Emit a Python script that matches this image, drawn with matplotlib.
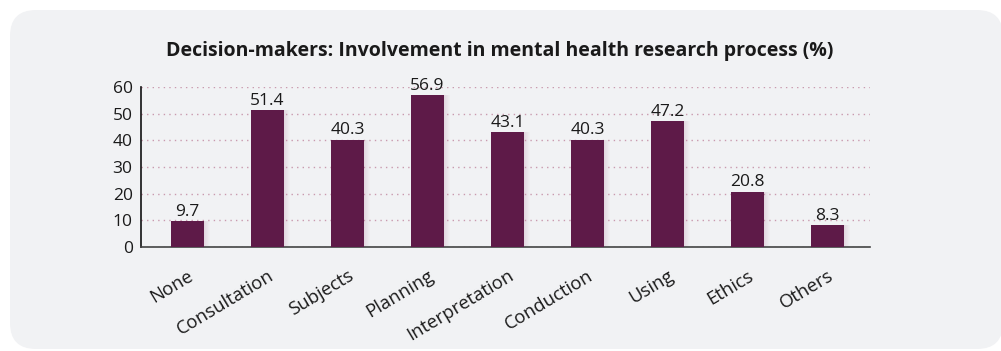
import numpy as np
import matplotlib.pyplot as plt
from matplotlib.patches import FancyBboxPatch

categories = ['None', 'Consultation', 'Subjects', 'Planning', 'Interpretation',
              'Conduction', 'Using', 'Ethics', 'Others']
values = [9.7, 51.4, 40.3, 56.9, 43.1, 40.3, 47.2, 20.8, 8.3]
yticks = [0, 10, 20, 30, 40, 50, 60]

bar_color = '#5e1a48'
panel_color = '#f1f2f4'

plt.rcParams['font.family'] = ['Open Sans', 'DejaVu Sans']

W, H = 1001, 351
fig = plt.figure(figsize=(W / 100, H / 100), dpi=100)
fig.patch.set_facecolor('white')

# background axes in pixel units holding the rounded grey panel
bg = fig.add_axes([0, 0, 1, 1], zorder=0)
bg.set_xlim(0, W)
bg.set_ylim(H, 0)
bg.axis('off')
bg.add_patch(FancyBboxPatch((10, 10), W - 8, H - 12,
                            boxstyle='round,pad=0,rounding_size=26',
                            facecolor=panel_color, edgecolor='none'))

ax = fig.add_axes([141 / W, 1 - 247 / H, (870 - 141) / W, (247 - 87) / H], zorder=1)
ax.set_facecolor('none')

x = np.arange(len(categories))
width = 0.41

# soft shadow on the right side of each bar
for i, a in enumerate(np.linspace(0.22, 0.04, 6)):
    ax.bar(x + width / 2 + 0.0125 * (i + 0.5), values, width=0.0125,
           color='#b07a98', alpha=a, linewidth=0, zorder=2)

ax.bar(x, values, width=width, color=bar_color, linewidth=0, zorder=3)

for xi, v in zip(x, values):
    ax.text(xi, v + 0.5, f'{v}', ha='center', va='bottom', fontsize=12.5,
            color='#1a1a1a', zorder=4)

ax.set_xlim(-0.58, 8.53)
ax.set_ylim(0, 60)
ax.set_yticks(yticks)
ax.set_yticklabels([str(t) for t in yticks], fontsize=12.5, color='#1a1a1a')
ax.yaxis.grid(True, linestyle=(0, (1, 3)), color='#c99aae', linewidth=1, zorder=1)
ax.set_axisbelow(True)

ax.set_xticks(x)
ax.set_xticklabels(categories, rotation=31, ha='right', rotation_mode='anchor',
                   fontsize=13.3, color='#1a1a1a')
ax.tick_params(axis='y', length=0, pad=6)
ax.tick_params(axis='x', length=0, pad=14)

for s in ['top', 'right']:
    ax.spines[s].set_visible(False)
ax.spines['left'].set_color('#111111')
ax.spines['bottom'].set_color('#444444')
ax.spines['left'].set_linewidth(1.2)
ax.spines['bottom'].set_linewidth(1.2)

fig.text(500 / W, 1 - 51 / H,
         'Decision-makers: Involvement in mental health research process (%)',
         ha='center', va='center', fontsize=14, fontweight='bold', color='#1a1a1a')

fig.savefig('out.png', dpi=100, facecolor='white')
